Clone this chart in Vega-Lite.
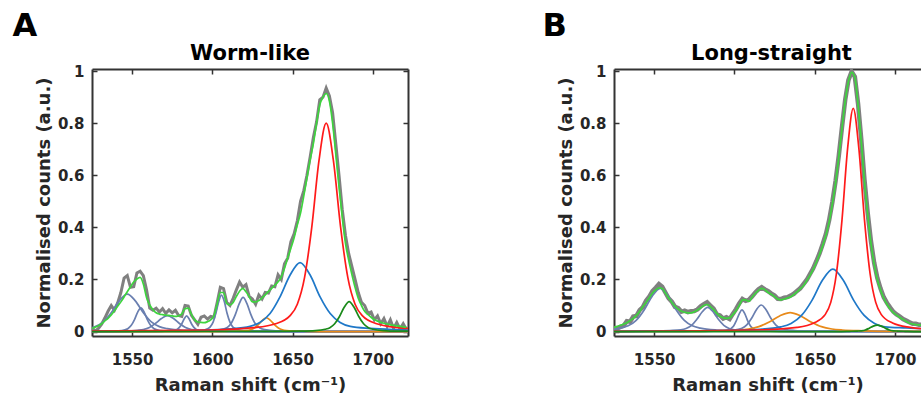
{
  "$schema": "https://vega.github.io/schema/vega-lite/v6.json",
  "background": "white",
  "padding": {"left": 12, "top": 10, "right": 0, "bottom": 0},
  "spacing": 133,
  "config": {
    "font": "DejaVu Sans",
    "view": {"stroke": null},
    "axis": {
      "labelFont": "DejaVu Sans", "labelFontSize": 15, "labelFontWeight": "bold", "labelColor": "#262626",
      "titleFont": "DejaVu Sans", "titleFontSize": 18, "titleFontWeight": "bold", "titleColor": "#262626",
      "tickColor": "#333333", "tickSize": -5, "tickWidth": 1.5,
      "domain": true, "domainColor": "#333333", "domainWidth": 2, "grid": false
    },
    "concat": {"spacing": 133}
  },
  "datasets": {
    "specA": [
      {"x":1525,"fit":0.012,"raw":0.015},{"x":1527,"fit":0.017,"raw":0.002},{"x":1529,"fit":0.022,"raw":0.012},{"x":1531,"fit":0.030,"raw":0.028},{"x":1533,"fit":0.041,"raw":0.052},{"x":1535,"fit":0.051,"raw":0.078},{"x":1537,"fit":0.064,"raw":0.100},{"x":1539,"fit":0.080,"raw":0.082},{"x":1541,"fit":0.097,"raw":0.110},{"x":1543,"fit":0.114,"raw":0.150},{"x":1545,"fit":0.133,"raw":0.205},{"x":1547,"fit":0.153,"raw":0.215},{"x":1549,"fit":0.172,"raw":0.170},{"x":1551,"fit":0.190,"raw":0.172},{"x":1553,"fit":0.202,"raw":0.225},{"x":1555,"fit":0.208,"raw":0.232},{"x":1557,"fit":0.183,"raw":0.215},{"x":1559,"fit":0.131,"raw":0.160},{"x":1561,"fit":0.102,"raw":0.090},{"x":1563,"fit":0.084,"raw":0.082},{"x":1565,"fit":0.072,"raw":0.090},{"x":1567,"fit":0.067,"raw":0.075},{"x":1569,"fit":0.065,"raw":0.088},{"x":1571,"fit":0.063,"raw":0.070},{"x":1573,"fit":0.062,"raw":0.083},{"x":1575,"fit":0.060,"raw":0.072},{"x":1577,"fit":0.058,"raw":0.082},{"x":1579,"fit":0.061,"raw":0.062},{"x":1581,"fit":0.068,"raw":0.058},{"x":1583,"fit":0.088,"raw":0.100},{"x":1585,"fit":0.090,"raw":0.098},{"x":1587,"fit":0.066,"raw":0.062},{"x":1589,"fit":0.045,"raw":0.045},{"x":1591,"fit":0.037,"raw":0.028},{"x":1593,"fit":0.035,"raw":0.055},{"x":1595,"fit":0.034,"raw":0.060},{"x":1597,"fit":0.038,"raw":0.048},{"x":1599,"fit":0.045,"raw":0.058},{"x":1601,"fit":0.060,"raw":0.055},{"x":1603,"fit":0.105,"raw":0.110},{"x":1605,"fit":0.150,"raw":0.170},{"x":1607,"fit":0.150,"raw":0.165},{"x":1609,"fit":0.108,"raw":0.112},{"x":1611,"fit":0.102,"raw":0.100},{"x":1613,"fit":0.112,"raw":0.128},{"x":1615,"fit":0.135,"raw":0.160},{"x":1617,"fit":0.155,"raw":0.190},{"x":1619,"fit":0.166,"raw":0.170},{"x":1621,"fit":0.153,"raw":0.180},{"x":1623,"fit":0.134,"raw":0.135},{"x":1625,"fit":0.114,"raw":0.125},{"x":1627,"fit":0.114,"raw":0.105},{"x":1629,"fit":0.119,"raw":0.140},{"x":1631,"fit":0.129,"raw":0.125},{"x":1633,"fit":0.141,"raw":0.150},{"x":1635,"fit":0.154,"raw":0.148},{"x":1637,"fit":0.166,"raw":0.175},{"x":1639,"fit":0.178,"raw":0.172},{"x":1641,"fit":0.191,"raw":0.218},{"x":1643,"fit":0.210,"raw":0.200},{"x":1645,"fit":0.243,"raw":0.260},{"x":1647,"fit":0.283,"raw":0.282},{"x":1649,"fit":0.320,"raw":0.345},{"x":1651,"fit":0.360,"raw":0.375},{"x":1653,"fit":0.410,"raw":0.425},{"x":1655,"fit":0.455,"raw":0.500},{"x":1657,"fit":0.520,"raw":0.540},{"x":1659,"fit":0.590,"raw":0.600},{"x":1661,"fit":0.660,"raw":0.670},{"x":1663,"fit":0.722,"raw":0.745},{"x":1665,"fit":0.800,"raw":0.805},{"x":1667,"fit":0.870,"raw":0.890},{"x":1669,"fit":0.900,"raw":0.900},{"x":1671,"fit":0.914,"raw":0.935},{"x":1673,"fit":0.885,"raw":0.905},{"x":1675,"fit":0.800,"raw":0.840},{"x":1677,"fit":0.680,"raw":0.720},{"x":1679,"fit":0.555,"raw":0.600},{"x":1681,"fit":0.440,"raw":0.470},{"x":1683,"fit":0.340,"raw":0.370},{"x":1685,"fit":0.275,"raw":0.300},{"x":1687,"fit":0.220,"raw":0.250},{"x":1689,"fit":0.170,"raw":0.200},{"x":1691,"fit":0.128,"raw":0.150},{"x":1693,"fit":0.100,"raw":0.112},{"x":1695,"fit":0.078,"raw":0.100},{"x":1697,"fit":0.066,"raw":0.070},{"x":1699,"fit":0.055,"raw":0.075},{"x":1701,"fit":0.046,"raw":0.045},{"x":1703,"fit":0.040,"raw":0.060},{"x":1705,"fit":0.036,"raw":0.030},{"x":1707,"fit":0.032,"raw":0.050},{"x":1709,"fit":0.029,"raw":0.020},{"x":1711,"fit":0.026,"raw":0.045},{"x":1713,"fit":0.024,"raw":0.012},{"x":1715,"fit":0.022,"raw":0.035},{"x":1717,"fit":0.020,"raw":0.010},{"x":1719,"fit":0.018,"raw":0.030},{"x":1721,"fit":0.016,"raw":0.008}
    ],
    "specB": [
      {"x":1525,"fit":0.016,"raw":0.014},{"x":1527,"fit":0.020,"raw":0.012},{"x":1529,"fit":0.024,"raw":0.018},{"x":1531,"fit":0.029,"raw":0.022},{"x":1533,"fit":0.034,"raw":0.040},{"x":1535,"fit":0.042,"raw":0.038},{"x":1537,"fit":0.051,"raw":0.058},{"x":1539,"fit":0.062,"raw":0.060},{"x":1541,"fit":0.078,"raw":0.082},{"x":1543,"fit":0.096,"raw":0.094},{"x":1545,"fit":0.112,"raw":0.118},{"x":1547,"fit":0.130,"raw":0.134},{"x":1549,"fit":0.148,"raw":0.155},{"x":1551,"fit":0.160,"raw":0.168},{"x":1553,"fit":0.168,"raw":0.182},{"x":1555,"fit":0.165,"raw":0.172},{"x":1557,"fit":0.148,"raw":0.150},{"x":1559,"fit":0.130,"raw":0.128},{"x":1561,"fit":0.112,"raw":0.115},{"x":1563,"fit":0.097,"raw":0.095},{"x":1565,"fit":0.086,"raw":0.090},{"x":1567,"fit":0.078,"raw":0.076},{"x":1569,"fit":0.074,"raw":0.080},{"x":1571,"fit":0.072,"raw":0.075},{"x":1573,"fit":0.072,"raw":0.078},{"x":1575,"fit":0.076,"raw":0.079},{"x":1577,"fit":0.083,"raw":0.085},{"x":1579,"fit":0.091,"raw":0.097},{"x":1581,"fit":0.100,"raw":0.105},{"x":1583,"fit":0.104,"raw":0.112},{"x":1585,"fit":0.096,"raw":0.100},{"x":1587,"fit":0.084,"raw":0.088},{"x":1589,"fit":0.070,"raw":0.066},{"x":1591,"fit":0.059,"raw":0.062},{"x":1593,"fit":0.053,"raw":0.050},{"x":1595,"fit":0.051,"raw":0.055},{"x":1597,"fit":0.053,"raw":0.048},{"x":1599,"fit":0.065,"raw":0.068},{"x":1601,"fit":0.080,"raw":0.086},{"x":1603,"fit":0.100,"raw":0.108},{"x":1605,"fit":0.122,"raw":0.125},{"x":1607,"fit":0.122,"raw":0.118},{"x":1609,"fit":0.116,"raw":0.122},{"x":1611,"fit":0.132,"raw":0.135},{"x":1613,"fit":0.146,"raw":0.150},{"x":1615,"fit":0.158,"raw":0.162},{"x":1617,"fit":0.166,"raw":0.170},{"x":1619,"fit":0.160,"raw":0.162},{"x":1621,"fit":0.150,"raw":0.155},{"x":1623,"fit":0.143,"raw":0.146},{"x":1625,"fit":0.134,"raw":0.138},{"x":1627,"fit":0.125,"raw":0.126},{"x":1629,"fit":0.122,"raw":0.125},{"x":1631,"fit":0.125,"raw":0.130},{"x":1633,"fit":0.129,"raw":0.132},{"x":1635,"fit":0.133,"raw":0.138},{"x":1637,"fit":0.142,"raw":0.145},{"x":1639,"fit":0.152,"raw":0.156},{"x":1641,"fit":0.164,"raw":0.166},{"x":1643,"fit":0.176,"raw":0.182},{"x":1645,"fit":0.195,"raw":0.198},{"x":1647,"fit":0.215,"raw":0.220},{"x":1649,"fit":0.238,"raw":0.242},{"x":1651,"fit":0.265,"raw":0.270},{"x":1653,"fit":0.296,"raw":0.300},{"x":1655,"fit":0.330,"raw":0.336},{"x":1657,"fit":0.370,"raw":0.375},{"x":1659,"fit":0.420,"raw":0.428},{"x":1661,"fit":0.490,"raw":0.497},{"x":1663,"fit":0.570,"raw":0.578},{"x":1665,"fit":0.670,"raw":0.675},{"x":1667,"fit":0.780,"raw":0.785},{"x":1669,"fit":0.885,"raw":0.890},{"x":1671,"fit":0.960,"raw":0.965},{"x":1673,"fit":0.995,"raw":0.998},{"x":1675,"fit":0.975,"raw":0.978},{"x":1677,"fit":0.870,"raw":0.875},{"x":1679,"fit":0.730,"raw":0.738},{"x":1681,"fit":0.575,"raw":0.582},{"x":1683,"fit":0.450,"raw":0.455},{"x":1685,"fit":0.340,"raw":0.348},{"x":1687,"fit":0.260,"raw":0.265},{"x":1689,"fit":0.200,"raw":0.206},{"x":1691,"fit":0.160,"raw":0.165},{"x":1693,"fit":0.128,"raw":0.132},{"x":1695,"fit":0.105,"raw":0.110},{"x":1697,"fit":0.087,"raw":0.092},{"x":1699,"fit":0.073,"raw":0.076},{"x":1701,"fit":0.063,"raw":0.066},{"x":1703,"fit":0.054,"raw":0.058},{"x":1705,"fit":0.046,"raw":0.048},{"x":1707,"fit":0.039,"raw":0.042},{"x":1709,"fit":0.032,"raw":0.036},{"x":1711,"fit":0.029,"raw":0.030},{"x":1713,"fit":0.027,"raw":0.030},{"x":1715,"fit":0.025,"raw":0.026},{"x":1717,"fit":0.024,"raw":0.027},{"x":1719,"fit":0.022,"raw":0.022},{"x":1721,"fit":0.021,"raw":0.024}
    ],
    "compA": [
      {"c":"p1","x":1525,"v":0.015},{"c":"p1","x":1527,"v":0.019},{"c":"p1","x":1532,"v":0.037},{"c":"p1","x":1537,"v":0.072},{"c":"p1","x":1542,"v":0.118},{"c":"p1","x":1547,"v":0.144},{"c":"p1","x":1552,"v":0.118},{"c":"p1","x":1557,"v":0.072},{"c":"p1","x":1562,"v":0.037},{"c":"p1","x":1567,"v":0.019},{"c":"p1","x":1572,"v":0.011},{"c":"p1","x":1582,"v":0.005},{"c":"p1","x":1597,"v":0.003},{"c":"p1","x":1627,"v":0.001},{"c":"p1","x":1722,"v":0.0},
      {"c":"p2","x":1525,"v":0.001},{"c":"p2","x":1535.5,"v":0.002},{"c":"p2","x":1541.5,"v":0.003},{"c":"p2","x":1545.5,"v":0.007},{"c":"p2","x":1547.5,"v":0.012},{"c":"p2","x":1549.5,"v":0.024},{"c":"p2","x":1551.5,"v":0.046},{"c":"p2","x":1553.5,"v":0.075},{"c":"p2","x":1555.5,"v":0.091},{"c":"p2","x":1557.5,"v":0.075},{"c":"p2","x":1559.5,"v":0.046},{"c":"p2","x":1561.5,"v":0.024},{"c":"p2","x":1563.5,"v":0.012},{"c":"p2","x":1565.5,"v":0.007},{"c":"p2","x":1569.5,"v":0.003},{"c":"p2","x":1575.5,"v":0.002},{"c":"p2","x":1587.5,"v":0.001},{"c":"p2","x":1722,"v":0.0},
      {"c":"p3","x":1525,"v":0.001},{"c":"p3","x":1534.5,"v":0.001},{"c":"p3","x":1545.8,"v":0.002},{"c":"p3","x":1553.3,"v":0.005},{"c":"p3","x":1557,"v":0.008},{"c":"p3","x":1560.8,"v":0.016},{"c":"p3","x":1564.5,"v":0.031},{"c":"p3","x":1568.3,"v":0.050},{"c":"p3","x":1572,"v":0.061},{"c":"p3","x":1575.8,"v":0.050},{"c":"p3","x":1579.5,"v":0.031},{"c":"p3","x":1583.3,"v":0.016},{"c":"p3","x":1587,"v":0.008},{"c":"p3","x":1590.8,"v":0.005},{"c":"p3","x":1598.3,"v":0.002},{"c":"p3","x":1609.5,"v":0.001},{"c":"p3","x":1632,"v":0.0},{"c":"p3","x":1722,"v":0.0},
      {"c":"p4","x":1525,"v":0.0},{"c":"p4","x":1560,"v":0.0},{"c":"p4","x":1569,"v":0.001},{"c":"p4","x":1573.5,"v":0.002},{"c":"p4","x":1576.5,"v":0.005},{"c":"p4","x":1578,"v":0.008},{"c":"p4","x":1579.5,"v":0.016},{"c":"p4","x":1581,"v":0.030},{"c":"p4","x":1582.5,"v":0.049},{"c":"p4","x":1584,"v":0.060},{"c":"p4","x":1585.5,"v":0.049},{"c":"p4","x":1587,"v":0.030},{"c":"p4","x":1588.5,"v":0.016},{"c":"p4","x":1590,"v":0.008},{"c":"p4","x":1591.5,"v":0.005},{"c":"p4","x":1594.5,"v":0.002},{"c":"p4","x":1599,"v":0.001},{"c":"p4","x":1608,"v":0.0},{"c":"p4","x":1722,"v":0.0},
      {"c":"p5","x":1525,"v":0.0},{"c":"p5","x":1577.7,"v":0.001},{"c":"p5","x":1588.2,"v":0.003},{"c":"p5","x":1593.5,"v":0.005},{"c":"p5","x":1597,"v":0.011},{"c":"p5","x":1598.7,"v":0.018},{"c":"p5","x":1600.5,"v":0.036},{"c":"p5","x":1602.2,"v":0.070},{"c":"p5","x":1604,"v":0.115},{"c":"p5","x":1605.7,"v":0.140},{"c":"p5","x":1607.5,"v":0.115},{"c":"p5","x":1609.2,"v":0.070},{"c":"p5","x":1611,"v":0.036},{"c":"p5","x":1612.7,"v":0.018},{"c":"p5","x":1614.5,"v":0.011},{"c":"p5","x":1618,"v":0.005},{"c":"p5","x":1623.2,"v":0.003},{"c":"p5","x":1633.7,"v":0.001},{"c":"p5","x":1722,"v":0.0},
      {"c":"p6","x":1525,"v":0.0},{"c":"p6","x":1580.8,"v":0.001},{"c":"p6","x":1595.2,"v":0.002},{"c":"p6","x":1602.4,"v":0.005},{"c":"p6","x":1607.2,"v":0.010},{"c":"p6","x":1609.6,"v":0.017},{"c":"p6","x":1612,"v":0.034},{"c":"p6","x":1614.4,"v":0.066},{"c":"p6","x":1616.8,"v":0.107},{"c":"p6","x":1619.2,"v":0.131},{"c":"p6","x":1621.6,"v":0.107},{"c":"p6","x":1624,"v":0.066},{"c":"p6","x":1626.4,"v":0.034},{"c":"p6","x":1628.8,"v":0.017},{"c":"p6","x":1631.2,"v":0.010},{"c":"p6","x":1636,"v":0.005},{"c":"p6","x":1643.2,"v":0.002},{"c":"p6","x":1657.6,"v":0.001},{"c":"p6","x":1722,"v":0.0},
      {"c":"p7","x":1525,"v":0.0},{"c":"p7","x":1593.7,"v":0.0},{"c":"p7","x":1608.7,"v":0.001},{"c":"p7","x":1616.2,"v":0.002},{"c":"p7","x":1621.2,"v":0.004},{"c":"p7","x":1623.7,"v":0.007},{"c":"p7","x":1626.2,"v":0.014},{"c":"p7","x":1628.7,"v":0.027},{"c":"p7","x":1631.2,"v":0.043},{"c":"p7","x":1633.7,"v":0.053},{"c":"p7","x":1636.2,"v":0.043},{"c":"p7","x":1638.7,"v":0.027},{"c":"p7","x":1641.2,"v":0.014},{"c":"p7","x":1643.7,"v":0.007},{"c":"p7","x":1646.2,"v":0.004},{"c":"p7","x":1651.2,"v":0.002},{"c":"p7","x":1658.7,"v":0.001},{"c":"p7","x":1673.7,"v":0.0},{"c":"p7","x":1722,"v":0.0},
      {"c":"p8","x":1525,"v":0.001},{"c":"p8","x":1554.7,"v":0.002},{"c":"p8","x":1592.2,"v":0.005},{"c":"p8","x":1611,"v":0.010},{"c":"p8","x":1623.5,"v":0.020},{"c":"p8","x":1629.7,"v":0.035},{"c":"p8","x":1636,"v":0.069},{"c":"p8","x":1642.2,"v":0.133},{"c":"p8","x":1648.5,"v":0.217},{"c":"p8","x":1654.7,"v":0.265},{"c":"p8","x":1661,"v":0.217},{"c":"p8","x":1667.2,"v":0.133},{"c":"p8","x":1673.5,"v":0.069},{"c":"p8","x":1679.7,"v":0.035},{"c":"p8","x":1686,"v":0.020},{"c":"p8","x":1698.5,"v":0.012},{"c":"p8","x":1717.2,"v":0.007},{"c":"p8","x":1722,"v":0.006},
      {"c":"p9","x":1525,"v":0.002},{"c":"p9","x":1599,"v":0.006},{"c":"p9","x":1626,"v":0.015},{"c":"p9","x":1639.5,"v":0.030},{"c":"p9","x":1648.5,"v":0.061},{"c":"p9","x":1653,"v":0.105},{"c":"p9","x":1657.5,"v":0.207},{"c":"p9","x":1662,"v":0.400},{"c":"p9","x":1666.5,"v":0.656},{"c":"p9","x":1671,"v":0.800},{"c":"p9","x":1675.5,"v":0.656},{"c":"p9","x":1680,"v":0.400},{"c":"p9","x":1684.5,"v":0.207},{"c":"p9","x":1689,"v":0.105},{"c":"p9","x":1693.5,"v":0.061},{"c":"p9","x":1702.5,"v":0.030},{"c":"p9","x":1716,"v":0.015},{"c":"p9","x":1722,"v":0.012},
      {"c":"p10","x":1525,"v":0.0},{"c":"p10","x":1637.3,"v":0.001},{"c":"p10","x":1655.3,"v":0.002},{"c":"p10","x":1664.3,"v":0.004},{"c":"p10","x":1670.3,"v":0.009},{"c":"p10","x":1673.3,"v":0.015},{"c":"p10","x":1676.3,"v":0.030},{"c":"p10","x":1679.3,"v":0.058},{"c":"p10","x":1682.3,"v":0.094},{"c":"p10","x":1685.3,"v":0.115},{"c":"p10","x":1688.3,"v":0.094},{"c":"p10","x":1691.3,"v":0.058},{"c":"p10","x":1694.3,"v":0.030},{"c":"p10","x":1697.3,"v":0.015},{"c":"p10","x":1700.3,"v":0.009},{"c":"p10","x":1706.3,"v":0.004},{"c":"p10","x":1715.3,"v":0.002},{"c":"p10","x":1722,"v":0.002}
    ],
    "compB": [
      {"c":"p1","x":1525,"v":0.009},{"c":"p1","x":1528.8,"v":0.013},{"c":"p1","x":1533.8,"v":0.022},{"c":"p1","x":1538.8,"v":0.043},{"c":"p1","x":1543.8,"v":0.083},{"c":"p1","x":1548.8,"v":0.136},{"c":"p1","x":1553.8,"v":0.166},{"c":"p1","x":1558.8,"v":0.136},{"c":"p1","x":1563.8,"v":0.083},{"c":"p1","x":1568.8,"v":0.043},{"c":"p1","x":1573.8,"v":0.022},{"c":"p1","x":1578.8,"v":0.013},{"c":"p1","x":1588.8,"v":0.006},{"c":"p1","x":1603.8,"v":0.003},{"c":"p1","x":1633.8,"v":0.001},{"c":"p1","x":1722,"v":0.0},
      {"c":"p2","x":1525,"v":0.001},{"c":"p2","x":1529.7,"v":0.001},{"c":"p2","x":1549.8,"v":0.002},{"c":"p2","x":1559.9,"v":0.004},{"c":"p2","x":1566.6,"v":0.007},{"c":"p2","x":1569.9,"v":0.012},{"c":"p2","x":1573.3,"v":0.024},{"c":"p2","x":1576.6,"v":0.047},{"c":"p2","x":1580,"v":0.076},{"c":"p2","x":1583.3,"v":0.093},{"c":"p2","x":1586.7,"v":0.076},{"c":"p2","x":1590,"v":0.047},{"c":"p2","x":1593.4,"v":0.024},{"c":"p2","x":1596.7,"v":0.012},{"c":"p2","x":1600,"v":0.007},{"c":"p2","x":1606.8,"v":0.004},{"c":"p2","x":1616.8,"v":0.002},{"c":"p2","x":1636.9,"v":0.001},{"c":"p2","x":1722,"v":0.0},
      {"c":"p3","x":1525,"v":0.0},{"c":"p3","x":1576.7,"v":0.001},{"c":"p3","x":1587.2,"v":0.002},{"c":"p3","x":1592.5,"v":0.003},{"c":"p3","x":1596,"v":0.006},{"c":"p3","x":1597.7,"v":0.011},{"c":"p3","x":1599.5,"v":0.021},{"c":"p3","x":1601.2,"v":0.042},{"c":"p3","x":1603,"v":0.068},{"c":"p3","x":1604.7,"v":0.083},{"c":"p3","x":1606.5,"v":0.068},{"c":"p3","x":1608.2,"v":0.042},{"c":"p3","x":1610,"v":0.021},{"c":"p3","x":1611.7,"v":0.011},{"c":"p3","x":1613.5,"v":0.006},{"c":"p3","x":1617,"v":0.003},{"c":"p3","x":1622.2,"v":0.002},{"c":"p3","x":1632.7,"v":0.001},{"c":"p3","x":1722,"v":0.0},
      {"c":"p4","x":1525,"v":0.0},{"c":"p4","x":1568.7,"v":0.001},{"c":"p4","x":1586.7,"v":0.002},{"c":"p4","x":1595.7,"v":0.004},{"c":"p4","x":1601.7,"v":0.008},{"c":"p4","x":1604.7,"v":0.013},{"c":"p4","x":1607.7,"v":0.026},{"c":"p4","x":1610.7,"v":0.051},{"c":"p4","x":1613.7,"v":0.084},{"c":"p4","x":1616.7,"v":0.102},{"c":"p4","x":1619.7,"v":0.084},{"c":"p4","x":1622.7,"v":0.051},{"c":"p4","x":1625.7,"v":0.026},{"c":"p4","x":1628.7,"v":0.013},{"c":"p4","x":1631.7,"v":0.008},{"c":"p4","x":1637.7,"v":0.004},{"c":"p4","x":1646.7,"v":0.002},{"c":"p4","x":1664.7,"v":0.001},{"c":"p4","x":1722,"v":0.0},
      {"c":"p7","x":1525,"v":0.001},{"c":"p7","x":1530.7,"v":0.001},{"c":"p7","x":1569.7,"v":0.001},{"c":"p7","x":1589.2,"v":0.003},{"c":"p7","x":1602.2,"v":0.006},{"c":"p7","x":1608.7,"v":0.010},{"c":"p7","x":1615.2,"v":0.019},{"c":"p7","x":1621.7,"v":0.037},{"c":"p7","x":1628.2,"v":0.060},{"c":"p7","x":1634.7,"v":0.073},{"c":"p7","x":1641.2,"v":0.060},{"c":"p7","x":1647.7,"v":0.037},{"c":"p7","x":1654.2,"v":0.019},{"c":"p7","x":1660.7,"v":0.010},{"c":"p7","x":1667.2,"v":0.006},{"c":"p7","x":1680.2,"v":0.003},{"c":"p7","x":1699.7,"v":0.001},{"c":"p7","x":1722,"v":0.001},
      {"c":"p8","x":1525,"v":0.001},{"c":"p8","x":1557.3,"v":0.002},{"c":"p8","x":1596.3,"v":0.005},{"c":"p8","x":1615.8,"v":0.009},{"c":"p8","x":1628.8,"v":0.018},{"c":"p8","x":1635.3,"v":0.031},{"c":"p8","x":1641.8,"v":0.062},{"c":"p8","x":1648.3,"v":0.120},{"c":"p8","x":1654.8,"v":0.197},{"c":"p8","x":1661.3,"v":0.240},{"c":"p8","x":1667.8,"v":0.197},{"c":"p8","x":1674.3,"v":0.120},{"c":"p8","x":1680.8,"v":0.062},{"c":"p8","x":1687.3,"v":0.031},{"c":"p8","x":1693.8,"v":0.018},{"c":"p8","x":1706.8,"v":0.014},{"c":"p8","x":1722,"v":0.010},
      {"c":"p9","x":1525,"v":0.001},{"c":"p9","x":1618,"v":0.007},{"c":"p9","x":1639,"v":0.016},{"c":"p9","x":1649.5,"v":0.033},{"c":"p9","x":1656.5,"v":0.065},{"c":"p9","x":1660,"v":0.112},{"c":"p9","x":1663.5,"v":0.222},{"c":"p9","x":1667,"v":0.429},{"c":"p9","x":1670.5,"v":0.703},{"c":"p9","x":1674,"v":0.857},{"c":"p9","x":1677.5,"v":0.703},{"c":"p9","x":1681,"v":0.429},{"c":"p9","x":1684.5,"v":0.222},{"c":"p9","x":1688,"v":0.112},{"c":"p9","x":1691.5,"v":0.065},{"c":"p9","x":1698.5,"v":0.033},{"c":"p9","x":1709.5,"v":0.016},{"c":"p9","x":1722,"v":0.009},
      {"c":"p10","x":1525,"v":0.0},{"c":"p10","x":1664,"v":0.0},{"c":"p10","x":1671.5,"v":0.001},{"c":"p10","x":1676.5,"v":0.002},{"c":"p10","x":1679,"v":0.003},{"c":"p10","x":1681.5,"v":0.006},{"c":"p10","x":1684,"v":0.013},{"c":"p10","x":1686.5,"v":0.021},{"c":"p10","x":1689,"v":0.025},{"c":"p10","x":1691.5,"v":0.021},{"c":"p10","x":1694,"v":0.013},{"c":"p10","x":1696.5,"v":0.006},{"c":"p10","x":1699,"v":0.003},{"c":"p10","x":1701.5,"v":0.002},{"c":"p10","x":1706.5,"v":0.001},{"c":"p10","x":1714,"v":0.0},{"c":"p10","x":1722,"v":0.0}
    ]
  },
  "hconcat": [
    {
      "title": {"text": "A", "anchor": "start", "frame": "bounds", "fontSize": 32, "fontWeight": "bold", "color": "black", "font": "DejaVu Sans", "dx": -23, "offset": 0},
      "vconcat": [
        {
          "width": 316, "height": 267,
          "title": {"text": "Worm-like", "fontSize": 21, "fontWeight": "bold", "color": "black", "font": "DejaVu Sans", "offset": 0},
          "resolve": {"axis": {"x": "independent", "y": "independent"}},
          "layer": [
            {
              "data": {"name": "specA"},
              "mark": {"type": "line", "color": "#808080", "strokeWidth": 3, "clip": true},
              "encoding": {
                "x": {"field": "x", "type": "quantitative", "scale": {"domain": [1525, 1722], "nice": false, "zero": false},
                      "axis": {"orient": "bottom", "values": [1550, 1600, 1650, 1700], "format": "d", "title": "Raman shift (cm⁻¹)", "labelPadding": 21, "titlePadding": 9}},
                "y": {"field": "raw", "type": "quantitative", "scale": {"domain": [-0.017, 1.008], "nice": false, "zero": false},
                      "axis": {"orient": "left", "values": [0, 0.2, 0.4, 0.6, 0.8, 1], "format": "~g", "title": "Normalised counts (a.u.)", "labelPadding": 13, "titlePadding": 4}}
              }
            },
            {
              "data": {"name": "compA"},
              "mark": {"type": "line", "strokeWidth": 1.7, "interpolate": "monotone", "clip": true},
              "encoding": {
                "x": {"field": "x", "type": "quantitative", "axis": null},
                "y": {"field": "v", "type": "quantitative", "axis": null},
                "color": {"field": "c", "type": "nominal", "legend": null,
                          "scale": {"domain": ["p1","p2","p3","p4","p5","p6","p7","p8","p9","p10"],
                                    "range": ["#6a7fb0","#6a7fb0","#6a7fb0","#6a7fb0","#6a7fb0","#6a7fb0","#e88a1a","#1f78c8","#ff1a1a","#1a8a1a"]}}
              }
            },
            {
              "data": {"name": "specA"},
              "mark": {"type": "line", "color": "#3ed43e", "strokeWidth": 1.7, "interpolate": "monotone", "clip": true},
              "encoding": {
                "x": {"field": "x", "type": "quantitative", "axis": {"orient": "top", "values": [1550, 1600, 1650, 1700], "labels": false, "title": null}},
                "y": {"field": "fit", "type": "quantitative", "axis": {"orient": "right", "values": [0, 0.2, 0.4, 0.6, 0.8, 1], "labels": false, "title": null}}
              }
            }
          ]
        }
      ]
    },
    {
      "title": {"text": "B", "anchor": "start", "frame": "bounds", "fontSize": 32, "fontWeight": "bold", "color": "black", "font": "DejaVu Sans", "dx": -15, "offset": 0},
      "vconcat": [
        {
          "width": 307, "height": 267,
          "title": {"text": "Long-straight", "fontSize": 21, "fontWeight": "bold", "color": "black", "font": "DejaVu Sans", "offset": 0, "dx": 4},
          "resolve": {"axis": {"x": "independent", "y": "independent"}},
          "layer": [
            {
              "data": {"name": "specB"},
              "mark": {"type": "line", "color": "#808080", "strokeWidth": 4.5, "clip": true},
              "encoding": {
                "x": {"field": "x", "type": "quantitative", "scale": {"domain": [1525, 1716.2], "nice": false, "zero": false},
                      "axis": {"orient": "bottom", "values": [1550, 1600, 1650, 1700], "format": "d", "title": "Raman shift (cm⁻¹)", "labelPadding": 21, "titlePadding": 9}},
                "y": {"field": "raw", "type": "quantitative", "scale": {"domain": [-0.017, 1.008], "nice": false, "zero": false},
                      "axis": {"orient": "left", "values": [0, 0.2, 0.4, 0.6, 0.8, 1], "format": "~g", "title": "Normalised counts (a.u.)", "labelPadding": 13, "titlePadding": 4}}
              }
            },
            {
              "data": {"name": "compB"},
              "mark": {"type": "line", "strokeWidth": 1.7, "interpolate": "monotone", "clip": true},
              "encoding": {
                "x": {"field": "x", "type": "quantitative", "axis": null},
                "y": {"field": "v", "type": "quantitative", "axis": null},
                "color": {"field": "c", "type": "nominal", "legend": null,
                          "scale": {"domain": ["p1","p2","p3","p4","p5","p6","p7","p8","p9","p10"],
                                    "range": ["#6a7fb0","#6a7fb0","#6a7fb0","#6a7fb0","#6a7fb0","#6a7fb0","#e88a1a","#1f78c8","#ff1a1a","#1a8a1a"]}}
              }
            },
            {
              "data": {"name": "specB"},
              "mark": {"type": "line", "color": "#3ed43e", "strokeWidth": 1.7, "interpolate": "monotone", "clip": true},
              "encoding": {
                "x": {"field": "x", "type": "quantitative", "axis": {"orient": "top", "values": [1550, 1600, 1650, 1700], "labels": false, "title": null}},
                "y": {"field": "fit", "type": "quantitative", "axis": null}
              }
            }
          ]
        }
      ]
    }
  ]
}
